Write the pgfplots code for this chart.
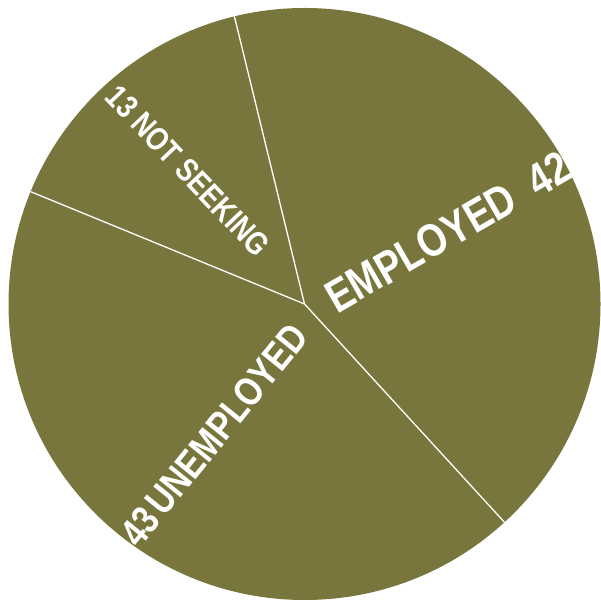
\documentclass[border=0pt]{standalone}
\usepackage{pgfplots}
\pgfplotsset{compat=1.18}
\usepackage{pgfplotstable}
\usepackage{fontspec}
\setmainfont{Liberation Sans}
\newfontfamily\narrow[FakeStretch=0.82]{Liberation Sans}
\definecolor{pieolive}{RGB}{120,118,60}

% share of each slice, counter-clockwise from the lower right boundary
\pgfplotstableread{
name share
employed 42
notseeking 15
unemployed 43
}\slices

\begin{document}
\begin{tikzpicture}
\begin{axis}[
  scale only axis,
  width=601pt, height=599pt,
  xmin=0, xmax=601, ymin=0, ymax=599,
  hide axis,
  clip=true,
]
\path (rel axis cs:0,0) rectangle (rel axis cs:1,1);
\fill[pieolive] (axis cs:304.5,295) circle[radius=296];

\pgfmathsetmacro\ang{-47.5}
\pgfplotstablegetrowsof{\slices}
\pgfmathtruncatemacro\n{\pgfplotsretval-1}
\pgfplotsforeachungrouped \i in {0,...,\n}{
  \pgfmathsetmacro\ex{304.5+296*cos(\ang)}
  \pgfmathsetmacro\ey{295+296*sin(\ang)}
  \edef\tmp{\noexpand\addplot[white, line width=1.3pt] coordinates {(304.5,295) (\ex,\ey)};}
  \tmp
  \pgfplotstablegetelem{\i}{share}\of\slices
  \pgfmathsetmacro\ang{\ang+3.6*\pgfplotsretval}
}

\node[white, rotate=30, font=\narrow\bfseries\fontsize{46}{46}\selectfont]
  at (axis cs:448,367) {EMPLOYED\hspace{0.45em}42};
\node[white, rotate=-46.5, font=\narrow\bfseries\fontsize{32.5}{32.5}\selectfont]
  at (axis cs:188,428) {13 NOT SEEKING};
\node[white, rotate=51, font=\narrow\bfseries\fontsize{40}{40}\selectfont]
  at (axis cs:214,164) {43\hspace{0.1em}UNEMPLOYED};
\end{axis}
\end{tikzpicture}
\end{document}
